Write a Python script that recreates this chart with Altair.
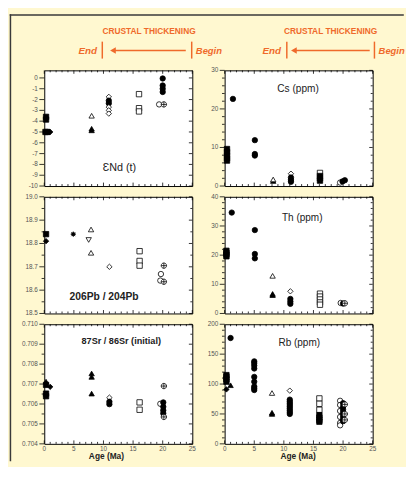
import altair as alt
import pandas as pd

FONT = "Liberation Sans"
CREAM = "#FFF8D0"
ORANGE = "#EF6A2B"
FRAME = "#3a3a3a"
TICKLAB = "#555555"
CROSSED = "M-1,0A1,1,0,1,1,1,0A1,1,0,1,1,-1,0ZM-1,0L1,0M0,-1L0,1"
ASTER = ("M-0.6,0A0.6,0.6,0,1,1,0.6,0A0.6,0.6,0,1,1,-0.6,0Z"
         "M-1,0L1,0M0,-1L0,1M-0.75,-0.75L0.75,0.75M-0.75,0.75L0.75,-0.75")

# ---------------- symbols ----------------
sym_codes = ["SQF", "DIF", "CIF", "AST", "TUO", "TUF", "TDO", "DIO", "SQO", "CIO", "CXO"]
sym_shapes = ["square", "diamond", "circle", ASTER, "triangle-up", "triangle-up",
              "triangle-down", "diamond", "square", "circle", CROSSED]
sym_fills = ["black", "black", "black", "black", "white", "black",
             "white", "white", "white", "white", "white"]

# ---------------- x ticks ----------------
x_major = [0, 5, 10, 15, 20, 25]
x_labels = ["0", "5", "10", "15", "20", "25"]
x_minor = [1, 2, 3, 4, 6, 7, 8, 9, 11, 12, 13, 14, 16, 17, 18, 19, 21, 22, 23, 24]
x_title = "Age (Ma)"
x_title_age = [10.5, 12.4]

# ---------------- eNd(t) ----------------
nd_age = [0.3, 0.3, 0.2, 0.5, 0.8, 1.0, 8.0, 8.0, 8.0, 10.9, 10.9, 10.9, 10.9, 10.9, 10.9,
          16.0, 16.0, 16.0, 20.0, 20.0, 20.0, 20.0, 19.4, 20.2]
nd_val = [-3.6, -3.85, -5.0, -5.0, -5.0, -5.0, -3.5, -4.7, -4.85, -1.75, -2.1, -2.35, -2.7, -3.0, -3.3,
          -1.5, -2.8, -3.1, -0.05, -0.7, -1.0, -1.3, -2.45, -2.45]
nd_sym = ["SQF", "SQF", "SQF", "SQF", "DIF", "DIF", "TUO", "TUF", "TUF", "DIO", "CIF", "CIF", "DIO", "DIO", "DIO",
          "SQO", "SQO", "SQO", "CIF", "CIF", "CIF", "CIF", "CIO", "CXO"]
nd_major = [-10, -9, -8, -7, -6, -5, -4, -3, -2, -1, 0]
nd_labels = ["-10", "-9", "-8", "-7", "-6", "-5", "-4", "-3", "-2", "-1", "0"]
nd_minor = []

# ---------------- Cs ----------------
cs_age = [0.4, 0.4, 0.4, 0.4, 0.4, 1.4, 5.1, 5.1, 5.1, 8.2, 8.2, 11.2, 11.2, 11.2, 11.2,
          16.1, 16.1, 16.1, 16.1, 19.5, 19.9, 20.3]
cs_val = [9.6, 8.8, 8.0, 7.2, 6.6, 22.6, 11.9, 8.3, 7.9, 1.3, 1.7, 3.2, 2.2, 1.6, 1.1,
          3.4, 2.6, 2.0, 1.4, 0.9, 1.2, 1.5]
cs_sym = ["SQF", "SQF", "SQF", "SQF", "SQF", "CIF", "CIF", "CIF", "CIF", "TUF", "TUO", "DIO", "CIF", "CIF", "CIF",
          "SQO", "SQF", "SQF", "SQF", "CIO", "CIF", "CIF"]
cs_major = [0, 10, 20, 30]
cs_labels = ["0", "10", "20", "30"]
cs_minor = [2, 4, 6, 8, 12, 14, 16, 18, 22, 24, 26, 28]

# ---------------- 206Pb/204Pb ----------------
pb_age = [0.3, 0.3, 4.9, 7.9, 7.5, 7.9, 11.0, 16.1, 16.1, 16.1, 20.2, 19.7, 19.6, 20.2]
pb_val = [18.84, 18.81, 18.84, 18.86, 18.815, 18.76, 18.70, 18.767, 18.725, 18.705,
          18.705, 18.669, 18.641, 18.636]
pb_sym = ["SQF", "DIF", "AST", "TUO", "TDO", "TUO", "DIO", "SQO", "SQO", "SQO", "CXO", "CIO", "CIO", "CXO"]
pb_major = [18.5, 18.6, 18.7, 18.8, 18.9, 19.0]
pb_labels = ["18.5", "18.6", "18.7", "18.8", "18.9", "19.0"]
pb_minor = [18.55, 18.65, 18.75, 18.85, 18.95]

# ---------------- Th ----------------
th_age = [0.3, 0.3, 0.3, 0.3, 1.2, 5.1, 5.1, 5.1, 8.1, 8.1, 8.1, 11.1, 11.1, 11.1, 11.1,
          16.1, 16.1, 16.1, 16.1, 16.1, 19.6, 20.0, 20.3]
th_val = [21.5, 20.8, 20.2, 19.6, 34.6, 28.6, 20.4, 18.9, 12.9, 6.7, 6.3, 7.6, 5.0, 4.1, 3.3,
          6.8, 5.8, 4.8, 3.8, 3.0, 3.6, 3.4, 3.5]
th_sym = ["SQF", "SQF", "SQF", "SQF", "CIF", "CIF", "CIF", "CIF", "TUO", "TUF", "TUF", "DIO", "CIF", "CIF", "CIF",
          "SQO", "SQO", "SQO", "SQO", "SQO", "CIO", "CIF", "CXO"]
th_major = [0, 10, 20, 30, 40]
th_labels = ["0", "10", "20", "30", "40"]
th_minor = [2, 4, 6, 8, 12, 14, 16, 18, 22, 24, 26, 28, 32, 34, 36, 38]

# ---------------- 87Sr/86Sr ----------------
sr_age = [0.3, 0.3, 1.0, 0.3, 0.3, 8.0, 8.0, 8.0, 11.0, 11.0, 11.0, 16.1, 16.1,
          20.2, 19.6, 20.1, 20.1, 20.1, 20.1, 20.2]
sr_val = [0.70712, 0.70696, 0.70686, 0.70652, 0.70639, 0.70753, 0.70736, 0.70652,
          0.70632, 0.70611, 0.70599, 0.70608, 0.70571,
          0.70690, 0.70601, 0.70608, 0.70586, 0.70568, 0.70553, 0.70535]
sr_sym = ["TUF", "SQF", "DIF", "SQF", "SQF", "TUF", "TUF", "TUF", "DIO", "CIF", "CIF", "SQO", "SQO",
          "CXO", "CIO", "CIF", "CIF", "CIF", "CIF", "CXO"]
sr_major = [0.704, 0.705, 0.706, 0.707, 0.708, 0.709, 0.710]
sr_labels = ["0.704", "0.705", "0.706", "0.707", "0.708", "0.709", "0.710"]
sr_minor = [0.7045, 0.7055, 0.7065, 0.7075, 0.7085, 0.7095]

# ---------------- Rb ----------------
rb_age = [0.3, 0.3, 0.3, 0.3, 0.3, 1.0, 1.0,
          5, 5, 5, 5, 5, 5, 5, 5, 5,
          8, 8, 8,
          11, 11, 11, 11, 11, 11, 11, 11, 11, 11,
          16, 16, 16, 16, 16, 16, 16,
          19.5, 19.5, 19.5, 19.5, 19.5, 19.5,
          20, 20, 20, 20, 20, 20, 20,
          20.3, 20.3, 20.3]
rb_val = [115, 112, 108, 104, 91, 98, 177,
          138, 135, 131, 126, 112, 104, 96, 93, 90,
          85, 52, 50,
          89, 74, 71, 68, 65, 62, 59, 56, 53, 50,
          76, 67, 57, 48, 44, 40, 37,
          72, 65, 55, 45, 35, 31,
          68, 62, 57, 52, 47, 42, 38,
          66, 50, 40]
rb_sym = ["SQF", "SQF", "SQF", "SQF", "DIF", "TUF", "CIF",
          "CIF", "CIF", "CIF", "CIF", "CIF", "CIF", "CIF", "CIF", "CIF",
          "TUO", "TUF", "TUF",
          "DIO", "CIF", "CIF", "CIF", "CIF", "CIF", "CIF", "CIF", "CIF", "CIF",
          "SQO", "SQO", "SQO", "SQF", "SQF", "SQF", "SQF",
          "CIO", "CIO", "CIO", "CIO", "CIO", "CIO",
          "CIF", "CIF", "CIF", "CIF", "CIF", "CIF", "CIF",
          "CXO", "CXO", "CXO"]
rb_major = [0, 50, 100, 150, 200]
rb_labels = ["0", "50", "100", "150", "200"]
rb_minor = [10, 20, 30, 40, 60, 70, 80, 90, 110, 120, 130, 140, 160, 170, 180, 190]

# ---------------- panel labels ----------------
labels = ["ƐNd (t)", "Cs (ppm)", "206Pb / 204Pb", "Th (ppm)", "87Sr / 86Sr (initial)", "Rb (ppm)"]
label_age = [12.7, 12.4, 10.1, 13.1, 13.0, 12.6]
label_val = [-8.35, 25.1, 18.572, 32.8, 0.70918, 168]
label_size = [11, 10.3, 10.5, 10.2, 9.3, 10.2]
label_weight = ["normal", "normal", "bold", "normal", "bold", "normal"]

# ---------------- header ----------------
hdr_title = "CRUSTAL THICKENING"
hdr_title_age = [17.7, 17.9]
hdr_end_bar = [9.8, 10.5]
hdr_begin_bar = [24.9, 25.3]
hdr_arrow_head = [11.6, 11.7]
hdr_arrow_tail = [23.9, 24.5]
hdr_end_text = [8.9, 9.5]
hdr_begin_text = [25.6, 26.0]

W = 151
ROW_H = [118, 119, 122]
HDR_H = 41
FW = 1.5            # frame line width


def xscale():
    return alt.Scale(domain=[0, 25], nice=False, zero=False)


def panel(age, val, sym, dom, major, ylabs, minor, k, h, bottom, col):
    ys = alt.Scale(domain=dom, nice=False, zero=False)
    XQ = lambda f: alt.X(f + ":Q", scale=xscale(), axis=None)
    YQ = lambda f: alt.Y(f + ":Q", scale=ys, axis=None)
    df = pd.DataFrame({"age": age, "val": val, "sym": sym})
    pts = alt.Chart(df).mark_point(size=30, stroke="black", strokeWidth=0.8, opacity=1).encode(
        x=XQ("age"), y=YQ("val"),
        shape=alt.Shape("sym:N", scale=alt.Scale(domain=sym_codes, range=sym_shapes), legend=None),
        fill=alt.Fill("sym:N", scale=alt.Scale(domain=sym_codes, range=sym_fills), legend=None),
    )
    lab = alt.Chart(pd.DataFrame({"age": [label_age[k]], "val": [label_val[k]], "s": [labels[k]]})).mark_text(
        font=FONT, fontSize=label_size[k], fontWeight=label_weight[k], color="#222", baseline="middle"
    ).encode(x=XQ("age"), y=YQ("val"), text="s:N")

    layers = [pts, lab]
    xmaj = pd.DataFrame({"t": x_major, "s": x_labels})
    xmin = pd.DataFrame({"t": x_minor})
    for d, L in ((xmaj, 3.5), (xmin, 2)):
        layers.append(alt.Chart(d).mark_rule(color="black", strokeWidth=0.8).encode(
            x=XQ("t"), y=alt.value(0), y2=alt.value(L)))
        layers.append(alt.Chart(d).mark_rule(color="black", strokeWidth=0.8).encode(
            x=XQ("t"), y=alt.value(h), y2=alt.value(h - L)))
    ymaj = pd.DataFrame({"t": major, "s": ylabs})
    # right inward ticks, left outward major ticks and tick labels
    layers.append(alt.Chart(ymaj).mark_rule(color="black", strokeWidth=0.8).encode(
        y=YQ("t"), x=alt.value(W), x2=alt.value(W - 3.5)))
    layers.append(alt.Chart(ymaj).mark_rule(color="black", strokeWidth=0.8).encode(
        y=YQ("t"), x=alt.value(0), x2=alt.value(-5)))
    layers.append(alt.Chart(ymaj).mark_text(
        font=FONT, fontSize=6.5, color=TICKLAB, align="right", baseline="middle").encode(
        y=YQ("t"), x=alt.value(-6.5), text="s:N"))
    if minor:
        ymin = pd.DataFrame({"t": minor})
        layers.append(alt.Chart(ymin).mark_rule(color="black", strokeWidth=0.8).encode(
            y=YQ("t"), x=alt.value(W), x2=alt.value(W - 2)))
        layers.append(alt.Chart(ymin).mark_rule(color="black", strokeWidth=0.8).encode(
            y=YQ("t"), x=alt.value(0), x2=alt.value(-2.7)))
    if bottom:
        layers.append(alt.Chart(xmaj).mark_text(
            font=FONT, fontSize=6.5, color=TICKLAB, align="center", baseline="middle").encode(
            x=XQ("t"), y=alt.value(h + 5.6), text="s:N"))
        layers.append(alt.Chart(pd.DataFrame({"t": [x_title_age[col]], "s": [x_title]})).mark_text(
            font=FONT, fontSize=8.5, fontWeight="bold", color="#222", align="center", baseline="middle").encode(
            x=XQ("t"), y=alt.value(h + 12.5), text="s:N"))
    return alt.layer(*layers).properties(width=W, height=h)


def header(i):
    X = lambda f: alt.X(f + ":Q", scale=xscale(), axis=None)
    title = alt.Chart(pd.DataFrame({"x": [hdr_title_age[i]], "s": [hdr_title]})).mark_text(
        font=FONT, fontSize=8.5, fontWeight="bold", color=ORANGE, baseline="middle"
    ).encode(x=X("x"), y=alt.value(11.7), text="s:N")
    bars = alt.Chart(pd.DataFrame({"x": [hdr_end_bar[i], hdr_begin_bar[i]]})).mark_rule(
        color=ORANGE, strokeWidth=1.5).encode(x=X("x"), y=alt.value(22.7), y2=alt.value(40))
    shaft = alt.Chart(pd.DataFrame({"x": [hdr_arrow_head[i]], "x2": [hdr_arrow_tail[i]]})).mark_rule(
        color=ORANGE, strokeWidth=1.4).encode(x=X("x"), x2=alt.X2("x2"), y=alt.value(31.7))
    head = alt.Chart(pd.DataFrame({"x": [hdr_arrow_head[i]]})).mark_point(
        shape="triangle-left", filled=True, size=45, color=ORANGE, opacity=1).encode(x=X("x"), y=alt.value(31.7))
    end_t = alt.Chart(pd.DataFrame({"x": [hdr_end_text[i]], "s": ["End"]})).mark_text(
        font=FONT, fontSize=10, fontWeight="bold", fontStyle="italic", color=ORANGE,
        align="right", baseline="middle").encode(x=X("x"), y=alt.value(32.5), text="s:N")
    beg_t = alt.Chart(pd.DataFrame({"x": [hdr_begin_text[i]], "s": ["Begin"]})).mark_text(
        font=FONT, fontSize=9.6, fontWeight="bold", fontStyle="italic", color=ORANGE,
        align="left", baseline="middle").encode(x=X("x"), y=alt.value(32.5), text="s:N")
    layers = [title, bars, shaft, head, end_t, beg_t]
    if i == 0:
        one = pd.DataFrame({"k": [0]})
        # outer frame of the figure (left and top edges)
        layers.append(alt.Chart(one).mark_rule(color=FRAME, strokeWidth=FW, strokeCap="square").encode(
            x=alt.value(-34.5), x2=alt.value(366), y=alt.value(-4.5)))
        layers.append(alt.Chart(one).mark_rule(color=FRAME, strokeWidth=FW, strokeCap="square").encode(
            x=alt.value(-34.5), y=alt.value(-4.5), y2=alt.value(450)))
    return alt.layer(*layers).properties(
        width=W, height=HDR_H, view=alt.ViewBackground(fill="transparent", stroke="transparent"))


nd = panel(nd_age, nd_val, nd_sym, [-10, 0.7], nd_major, nd_labels, nd_minor, 0, ROW_H[0], False, 0)
cs = panel(cs_age, cs_val, cs_sym, [0, 30], cs_major, cs_labels, cs_minor, 1, ROW_H[0], False, 1)
pb = panel(pb_age, pb_val, pb_sym, [18.5, 19.0], pb_major, pb_labels, pb_minor, 2, ROW_H[1], False, 0)
th = panel(th_age, th_val, th_sym, [0, 40], th_major, th_labels, th_minor, 3, ROW_H[1], False, 1)
sr = panel(sr_age, sr_val, sr_sym, [0.704, 0.710], sr_major, sr_labels, sr_minor, 4, ROW_H[2], True, 0)
rb = panel(rb_age, rb_val, rb_sym, [0, 200], rb_major, rb_labels, rb_minor, 5, ROW_H[2], True, 1)

chart = alt.concat(
    header(0), header(1), nd, cs, pb, th, sr, rb,
    columns=2, spacing=alt.RowColnumber(row=11, column=33), align="each", bounds="flush",
).properties(
    padding={"left": 0, "top": 0, "right": 0, "bottom": 0}
).configure(
    background=CREAM, font=FONT
).configure_view(
    stroke="black", strokeWidth=1, fill="white"
)

chart.save("out.html", embed_options={"renderer": "svg", "actions": False})
